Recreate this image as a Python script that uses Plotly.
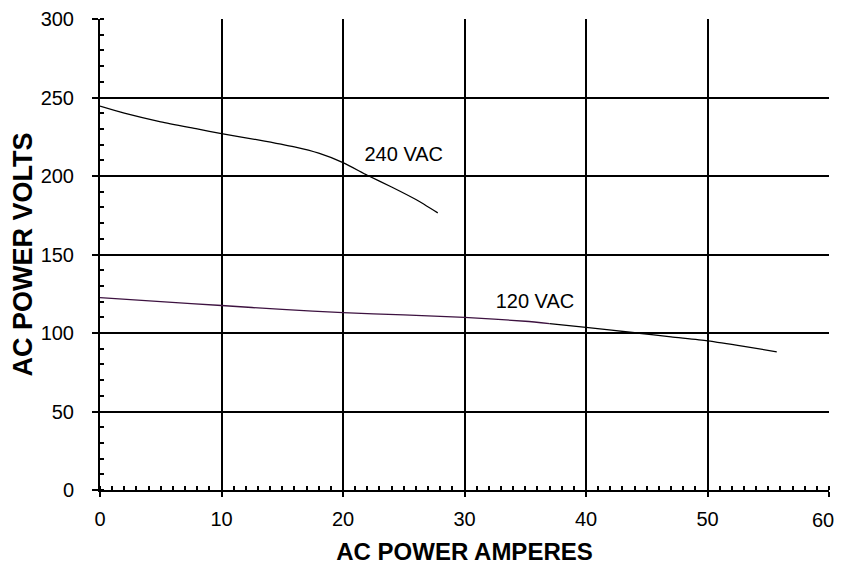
import plotly.graph_objects as go

# 240 VAC curve
amps_240 = [0, 2, 5, 8, 10, 13, 16, 18, 20, 22, 24, 26, 27.8]
volts_240 = [244.5, 240, 234.5, 230, 227, 223, 218.5, 214.5, 208.5, 200.5, 193, 185, 176.5]

# 120 VAC curve (first part drawn in dark purple, as in the original)
amps_120a = [0, 5, 10, 15, 20, 25, 30, 35, 37]
volts_120a = [122.5, 120, 117.5, 115, 113, 111.5, 110, 107.5, 106]
amps_120b = [37, 40, 44.2, 47, 50, 53, 55.7]
volts_120b = [106, 103.6, 100, 97.5, 95, 91.5, 88]

x_ticks = [0, 10, 20, 30, 40, 50, 60]
x_tick_text = ["0", "10", "20", "30", "40", "50", ""]  # "60" drawn separately so it is not clipped

labels = ["240 VAC", "120 VAC"]
label_x = [25.0, 35.8]
label_y = [212.5, 119]

FONT = "Liberation Sans, Arial, sans-serif"

fig = go.Figure()
fig.add_trace(go.Scatter(x=amps_240, y=volts_240, mode="lines",
                         line=dict(color="black", width=1.3, shape="spline", smoothing=0.6),
                         showlegend=False))
fig.add_trace(go.Scatter(x=amps_120a, y=volts_120a, mode="lines",
                         line=dict(color="#3d1240", width=1.3, shape="spline", smoothing=0.6),
                         showlegend=False))
fig.add_trace(go.Scatter(x=amps_120b, y=volts_120b, mode="lines",
                         line=dict(color="black", width=1.3, shape="spline", smoothing=0.6),
                         showlegend=False))
fig.add_trace(go.Scatter(x=label_x, y=label_y, mode="text", text=labels,
                         textfont=dict(family=FONT, size=20, color="black"),
                         showlegend=False))

fig.add_annotation(x=x_ticks[-1], xref="x", y=0, yref="paper", text="60",
                   showarrow=False, xanchor="center", yanchor="top",
                   xshift=-6, yshift=-17, font=dict(family=FONT, size=20, color="black"))

# the page body adds an 8px margin, so the figure is a bit smaller than the window
fig.update_layout(
    width=834, height=558,
    margin=dict(l=92, r=13, t=11, b=76),
    paper_bgcolor="white", plot_bgcolor="white",
    font=dict(family=FONT, color="black"),
    xaxis=dict(
        range=[0, 60], tickvals=x_ticks, ticktext=x_tick_text,
        showgrid=True, gridcolor="black", gridwidth=2.2,
        zeroline=False, showline=True, linecolor="black", linewidth=2,
        ticks="outside", ticklen=5, tickwidth=2, tickcolor="black",
        tickfont=dict(size=20), ticklabelstandoff=5, automargin=False,
        ticklabeloverflow="allow",
        minor=dict(dtick=1, ticks="inside", ticklen=4, tickwidth=2, tickcolor="black", showgrid=False),
        title=dict(text="<b>AC POWER AMPERES</b>", font=dict(size=24), standoff=14),
    ),
    yaxis=dict(
        range=[0, 300], dtick=50, showgrid=True, gridcolor="black", gridwidth=1.5,
        zeroline=False, showline=True, linecolor="black", linewidth=2,
        ticks="outside", ticklen=6, tickwidth=1.5, tickcolor="black",
        tickfont=dict(size=20), ticklabelstandoff=14, automargin=False,
        ticklabeloverflow="allow",
        minor=dict(dtick=10, ticks="inside", ticklen=4, tickwidth=2, tickcolor="black", showgrid=False),
        title=dict(text="<b>AC POWER VOLTS</b>", font=dict(size=27), standoff=8),
    ),
)

fig.write_html("out.html")
